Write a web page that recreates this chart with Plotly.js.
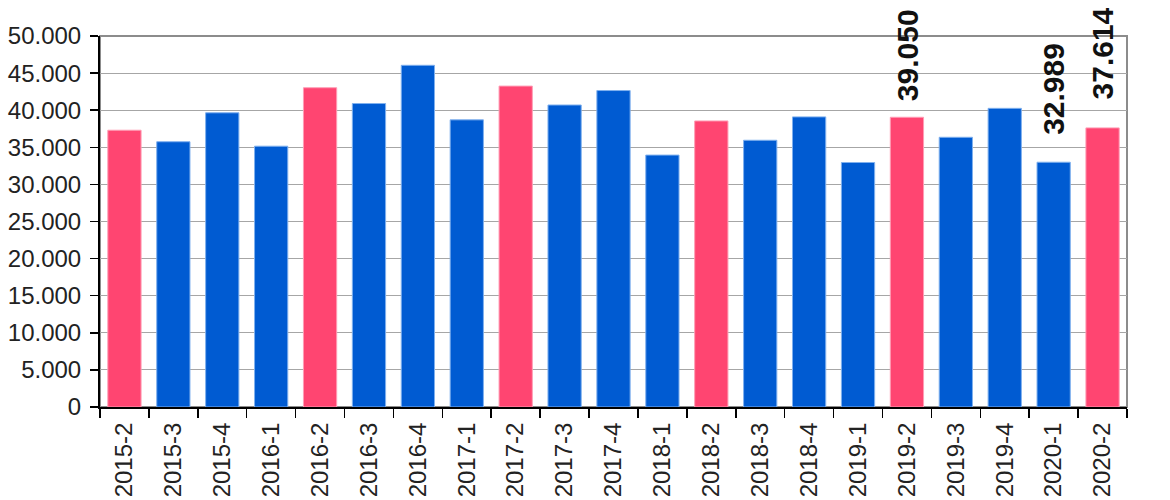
<!DOCTYPE html>
<html>
<head>
<meta charset="utf-8">
<script src="https://cdn.plot.ly/plotly-3.0.1.min.js"></script>
<style>html,body{margin:0;padding:0;background:#fff;}#chart{width:1170px;height:500px;}</style>
</head>
<body>
<div id="chart"></div>
<script>
const categories = ["2015-2","2015-3","2015-4","2016-1","2016-2","2016-3","2016-4","2017-1","2017-2","2017-3","2017-4","2018-1","2018-2","2018-3","2018-4","2019-1","2019-2","2019-3","2019-4","2020-1","2020-2"];
const values = [37300,35750,39650,35150,43030,40900,46050,38700,43250,40700,42650,33950,38550,35950,39100,32950,39050,36350,40250,32989,37614];
const labelCategories = ["2019-2","2020-1","2020-2"];
const labelValues = [39050,32989,37614];
const labelShifts = [14,25,26];

const pink = "#FF4571", blue = "#005BD2";
const colors = categories.map(c => c.endsWith("-2") ? pink : blue);
const lineColors = categories.map(c => c.endsWith("-2") ? "#ff9db5" : "#7fb0ee");

function fmt(v){ const t = Math.floor(v/1000), r = v % 1000; return t + "." + String(r).padStart(3,"0"); }

const trace = {
  type: "bar", x: categories, y: values,
  marker: {color: colors, line: {color: lineColors, width: 1}},
  hoverinfo: "x+y"
};

const layout = {
  width: 1170, height: 500,
  margin: {l: 100, r: 43, t: 36, b: 93, pad: 0},
  paper_bgcolor: "#fff", plot_bgcolor: "#fff",
  separators: ",.",
  bargap: 0.32,
  showlegend: false,
  font: {family: "Liberation Sans, Arial, sans-serif", color: "#222"},
  xaxis: {
    type: "category", tickangle: -90, ticks: "outside", ticklen: 9, tickwidth: 1.5, tickcolor: "#000",
    tickson: "boundaries", showline: true, linecolor: "#000", linewidth: 2, showgrid: false,
    tickfont: {size: 24, color: "#222"}, automargin: false, ticklabelstandoff: 4
  },
  yaxis: {
    range: [0, 50000], dtick: 5000, tick0: 0, tickformat: ",d",
    ticks: "outside", ticklen: 8, tickwidth: 1.5, tickcolor: "#000",
    showline: true, linecolor: "#000", linewidth: 2,
    gridcolor: "#a6a6a6", gridwidth: 1.2, zeroline: false,
    tickfont: {size: 24, color: "#222"}, automargin: false, ticklabelstandoff: 4
  },
  shapes: [{type: "rect", xref: "x domain", yref: "y domain", x0: 0, x1: 1, y0: 0, y1: 1,
            line: {color: "#8c8c8c", width: 2}, layer: "below"}],
  annotations: labelCategories.map((c, i) => ({
    x: c, y: labelValues[i], xref: "x", yref: "y", text: "<b>" + fmt(labelValues[i]) + "</b>",
    textangle: -90, showarrow: false, xanchor: "center", yanchor: "bottom", yshift: labelShifts[i],
    font: {size: 30, color: "#111", family: "Liberation Sans, Arial, sans-serif"}
  }))
};

Plotly.newPlot("chart", [trace], layout, {staticPlot: true, displayModeBar: false});
</script>
</body>
</html>
